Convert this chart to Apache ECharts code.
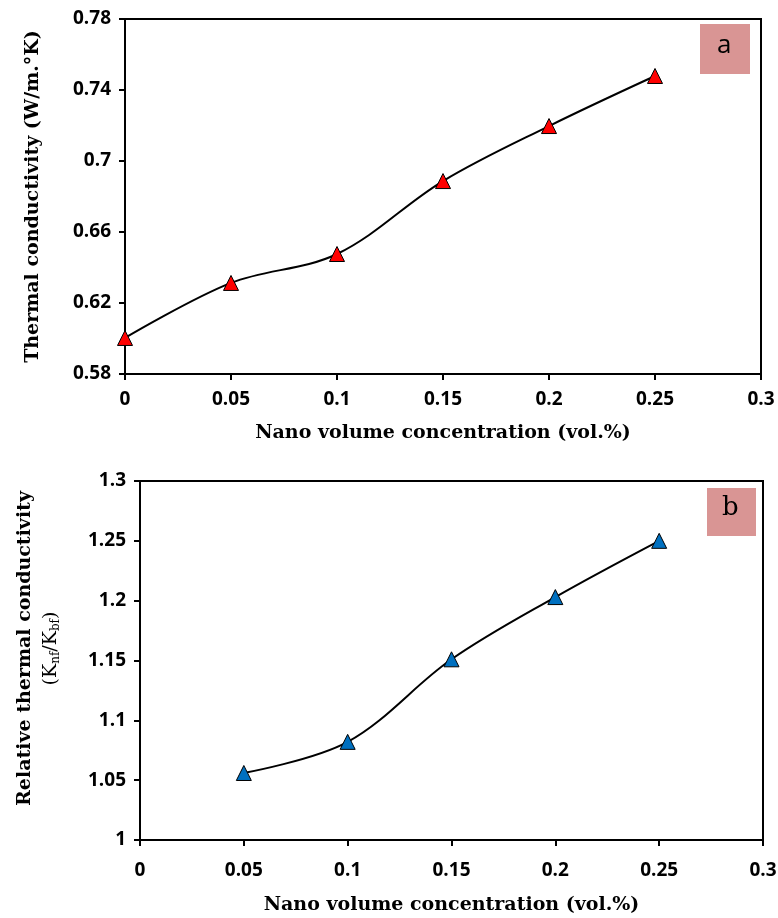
<!DOCTYPE html>
<html>
<head>
<meta charset="utf-8">
<script src="https://cdn.jsdelivr.net/npm/echarts@6/dist/echarts.min.js"></script>
<style>
  html, body { margin: 0; padding: 0; background: #fff; }
  #chart { width: 778px; height: 918px; }
</style>
</head>
<body>
<div id="chart"></div>
<script>
// panel a: thermal conductivity vs concentration
const concA = [0, 0.05, 0.1, 0.15, 0.2, 0.25];
const kA = [0.6003, 0.6313, 0.6476, 0.6887, 0.7197, 0.7479];
// panel b: relative thermal conductivity
const concB = [0.05, 0.1, 0.15, 0.2, 0.25];
const kB = [1.056, 1.082, 1.151, 1.203, 1.250];

const tickFont = { fontFamily: 'Open Sans', fontWeight: 'bold', fontSize: 19, color: '#000' };
const titleFont = { fontFamily: 'DejaVu Serif', fontWeight: 'bold', fontSize: 19, color: '#000' };

const chart = echarts.init(document.getElementById('chart'));

function xAxisOf (gridIndex, margin, gap) {
    return {
        type: 'value', gridIndex: gridIndex, min: 0, max: 0.3, interval: 0.05,
        name: 'Nano volume concentration (vol.%)',
        nameLocation: 'middle', nameGap: gap, nameTextStyle: titleFont,
        axisLine: { lineStyle: { color: '#000', width: 2 } },
        axisTick: { show: true, length: 6, lineStyle: { color: '#000', width: 2 } },
        axisLabel: Object.assign({ margin: margin }, tickFont),
        splitLine: { show: false }
    };
}

function seriesOf (idx, xs, ys, color) {
    return {
        type: 'line', xAxisIndex: idx, yAxisIndex: idx,
        data: xs.map((x, i) => [x, ys[i]]),
        smooth: 0.35,
        symbol: 'triangle', symbolSize: 15,
        itemStyle: { color: color, borderColor: '#000', borderWidth: 1 },
        lineStyle: { color: '#000', width: 2 }
    };
}

chart.setOption({
    animation: false,
    backgroundColor: '#fff',
    grid: [
        { left: 125, top: 19, right: 17, height: 355, outerBoundsMode: 'none', show: true, borderColor: '#000', borderWidth: 2 },
        { left: 140, top: 481, right: 15, height: 359, outerBoundsMode: 'none', show: true, borderColor: '#000', borderWidth: 2 }
    ],
    xAxis: [xAxisOf(0, 16, 50), xAxisOf(1, 21, 56)],
    yAxis: [
        {
            type: 'value', gridIndex: 0, min: 0.58, max: 0.78, interval: 0.04,
            name: 'Thermal conductivity (W/m.°K)',
            nameLocation: 'middle', nameGap: 82, nameTextStyle: titleFont,
            axisLine: { show: true, lineStyle: { color: '#000', width: 2 } },
            axisTick: { show: true, length: 6, lineStyle: { color: '#000', width: 2 } },
            axisLabel: Object.assign({ margin: 14, formatter: v => String(+v.toFixed(2)) }, tickFont),
            splitLine: { show: false }
        },
        {
            type: 'value', gridIndex: 1, min: 1, max: 1.3, interval: 0.05,
            name: '{t|Relative thermal conductivity}\n{r|(K}{s|nf}{r|/K}{s|bf}{r|)}',
            nameLocation: 'middle', nameGap: 76,
            nameTextStyle: {
                padding: [0, 0, 0, 24],
                rich: {
                    t: Object.assign({ lineHeight: 26 }, titleFont),
                    r: { fontFamily: 'DejaVu Serif', fontSize: 19, color: '#000', lineHeight: 26 },
                    s: { fontFamily: 'DejaVu Serif', fontSize: 12, color: '#000', padding: [9, 0, 0, 0] }
                }
            },
            axisLine: { show: true, lineStyle: { color: '#000', width: 2 } },
            axisTick: { show: true, length: 6, lineStyle: { color: '#000', width: 2 } },
            axisLabel: Object.assign({ margin: 14, formatter: v => String(+v.toFixed(2)) }, tickFont),
            splitLine: { show: false }
        }
    ],
    series: [
        seriesOf(0, concA, kA, '#ff0000'),
        seriesOf(1, concB, kB, '#0070c0')
    ],
    graphic: [
        { type: 'rect', left: 700, top: 24, shape: { width: 50, height: 50 }, style: { fill: '#d99594' } },
        { type: 'text', left: 717, top: 33, style: { text: 'a', fontFamily: 'Open Sans', fontSize: 26, fill: '#000' } },
        { type: 'rect', left: 707, top: 488, shape: { width: 49, height: 48 }, style: { fill: '#d99594' } },
        { type: 'text', left: 722, top: 495, style: { text: 'b', fontFamily: 'DejaVu Serif', fontSize: 26, fill: '#000' } }
    ]
});
</script>
</body>
</html>
